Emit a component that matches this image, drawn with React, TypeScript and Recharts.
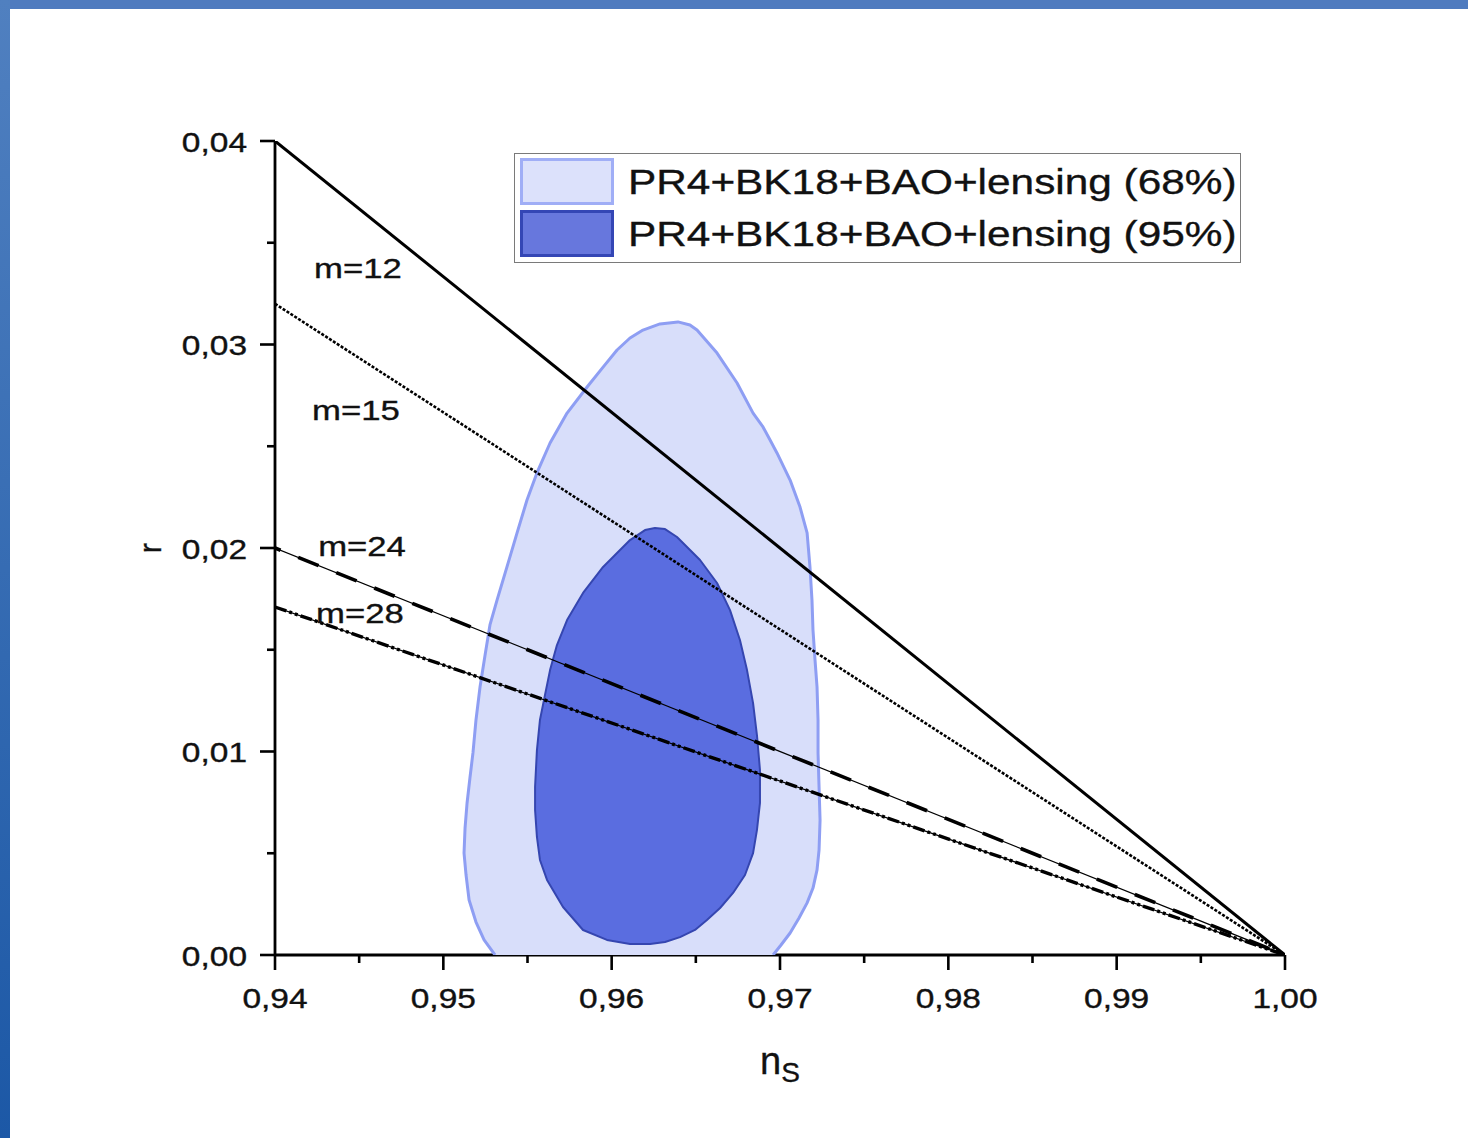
import React from "react"
import { ScatterChart, Scatter, XAxis, YAxis, Legend, ReferenceDot } from "recharts"

// n_s - r plane, contour points
const outerNs = [0.95307,0.95242,0.95194,0.95153,0.95135,0.95123,0.95129,0.95141,0.95158,0.95176,0.95194,0.95218,0.95248,0.95277,0.95319,0.95378,0.95438,0.95497,0.95556,0.95634,0.95735,0.95854,0.95949,0.96032,0.96109,0.96186,0.96287,0.96394,0.96465,0.96507,0.96626,0.96745,0.96840,0.96899,0.96941,0.96982,0.97060,0.97119,0.97161,0.97178,0.97190,0.97196,0.97208,0.97220,0.97226,0.97226,0.97232,0.97238,0.97232,0.97220,0.97196,0.97161,0.97113,0.97060,0.97006,0.96959]
const outerR = [0,0.00074,0.00162,0.00270,0.00393,0.00501,0.00624,0.00747,0.00870,0.00993,0.01155,0.01317,0.01474,0.01622,0.01744,0.01907,0.02074,0.02236,0.02369,0.02516,0.02663,0.02791,0.02889,0.02973,0.03032,0.03071,0.03101,0.03111,0.03096,0.03071,0.02958,0.02811,0.02663,0.02595,0.02531,0.02467,0.02334,0.02201,0.02074,0.01907,0.01744,0.01597,0.01450,0.01317,0.01155,0.00993,0.00826,0.00663,0.00516,0.00418,0.00329,0.00256,0.00182,0.00108,0.00049,0]

const innerNs = [0.96228,0.96109,0.95972,0.95830,0.95711,0.95616,0.95574,0.95556,0.95545,0.95545,0.95556,0.95574,0.95604,0.95634,0.95675,0.95735,0.95830,0.95949,0.96109,0.96198,0.96257,0.96317,0.96388,0.96525,0.96626,0.96703,0.96762,0.96804,0.96840,0.96863,0.96881,0.96881,0.96863,0.96840,0.96792,0.96721,0.96644,0.96566,0.96495,0.96406,0.96317]
const innerR = [0.00054,0.00054,0.00074,0.00123,0.00236,0.00369,0.00467,0.00580,0.00713,0.00826,0.01007,0.01155,0.01278,0.01400,0.01523,0.01646,0.01779,0.01907,0.02039,0.02088,0.02098,0.02093,0.02054,0.01941,0.01828,0.01695,0.01548,0.01400,0.01238,0.01081,0.00909,0.00747,0.00614,0.00501,0.00393,0.00305,0.00231,0.00172,0.00123,0.00088,0.00064]

// straight model lines r(n_s) for each m, from n_s = 0.94 to 1.00
const lineNs = [0.94, 1.0]
const m12 = [0.04, 0]
const m15 = [0.032, 0]
const m24 = [0.02, 0]
const m28 = [0.0171, 0]

const lineLabels = ["m=12", "m=15", "m=24", "m=28"]
const labelNs = [0.94493, 0.94481, 0.94517, 0.94505]
const labelR = [0.03376, 0.02678, 0.0201, 0.01681]

const xTicks = [0.94,0.945,0.95,0.955,0.96,0.965,0.97,0.975,0.98,0.985,0.99,0.995,1.0]
const yTicks = [0,0.005,0.01,0.015,0.02,0.025,0.03,0.035,0.04]

const legendNames = ["PR4+BK18+BAO+lensing (68%)", "PR4+BK18+BAO+lensing (95%)"]
const swatch = [
  { fill: "#dce1fb", stroke: "#a0aef6" },
  { fill: "#6777dd", stroke: "#3446b5" },
]

const FONT = "'Liberation Sans', Arial, sans-serif"
const SX = 1.24

const toPts = (xs: number[], ys: number[]) => xs.map((ns, i) => ({ ns, r: ys[i] }))

const outer = toPts(outerNs, outerR)
const inner = toPts(innerNs, innerR)

const isMajor = (v: number) => Math.round(v * 1000) % 10 === 0
const fmt = (v: number, d: number) => v.toFixed(d).replace(".", ",")

const noDot = () => <g />

function pathOf(points: { x: number; y: number }[]) {
  return points.map((p, i) => `${i ? "L" : "M"}${p.x},${p.y}`).join(" ")
}

// filled region; outline is left open for the outer one so it doesn't double the axis
function region(fill: string, stroke: string, sw: number, closeStroke: boolean) {
  return (p: any) => {
    const d = pathOf(p.points)
    return (
      <g>
        <path d={d + " Z"} fill={fill} stroke="none" />
        <path d={closeStroke ? d + " Z" : d} fill="none" stroke={stroke} strokeWidth={sw} strokeLinejoin="round" />
      </g>
    )
  }
}

function styledLine(main: any, thin?: boolean) {
  return (p: any) => {
    const d = pathOf(p.points)
    return (
      <g>
        {thin && <path d={d} fill="none" stroke="#000" strokeWidth={1.2} />}
        <path d={d} fill="none" stroke="#000" {...main} />
      </g>
    )
  }
}

const txt = { fontFamily: FONT, fill: "#111", stroke: "#111", strokeWidth: 0.35 }

function XTick(props: any) {
  const { x, y, payload } = props
  const major = isMajor(payload.value)
  return (
    <g transform={`translate(${x},${y})`}>
      <line x1={0} x2={0} y1={0} y2={major ? 15 : 8} stroke="#000" strokeWidth={2.6} />
      {major && (
        <text x={0} y={43} textAnchor="middle" dominantBaseline="central" fontSize={27}
          {...txt} transform={`scale(${SX},1)`}>
          {fmt(payload.value, 2)}
        </text>
      )}
    </g>
  )
}

function YTick(props: any) {
  const { x, y, payload } = props
  const major = isMajor(payload.value)
  return (
    <g transform={`translate(${x},${y})`}>
      <line x1={0} x2={major ? -15 : -8} y1={0} y2={0} stroke="#000" strokeWidth={2.6} />
      {major && (
        <text x={-28 / SX} y={1} textAnchor="end" dominantBaseline="central" fontSize={27}
          {...txt} transform={`scale(${SX},1)`}>
          {fmt(payload.value, 2)}
        </text>
      )}
    </g>
  )
}

function YLabel(props: any) {
  const vb = props.viewBox
  const cx = vb.x + vb.width - 125
  const cy = vb.y + vb.height / 2
  return (
    <text x={cx} y={cy} textAnchor="middle" dominantBaseline="central" fontSize={31}
      {...txt} transform={`rotate(-90,${cx},${cy})`}>
      r
    </text>
  )
}

function XLabel(props: any) {
  const vb = props.viewBox
  const cx = vb.x + vb.width / 2
  const cy = vb.y + 106
  return (
    <text x={cx - 20} y={cy} fontSize={38} {...txt} dominantBaseline="central">
      n<tspan fontSize={28} dy={11}>S</tspan>
    </text>
  )
}

function MLabel(text: string) {
  return (props: any) => {
    const vb = props.viewBox
    return (
      <text x={vb.x / SX} y={vb.y} textAnchor="middle" dominantBaseline="central" fontSize={28}
        {...txt} transform={`scale(${SX},1)`}>
        {text}
      </text>
    )
  }
}

function LegendBox({ payload }: any) {
  const items = (payload || []).filter((e: any) => legendNames.includes(e.value))
  return (
    <div style={{ border: "1px solid #7a7a7a", background: "#fff", width: 727, height: 110,
      boxSizing: "border-box", padding: "4px 5px" }}>
      {items.map((e: any, i: number) => (
        <div key={e.value} style={{ display: "flex", alignItems: "center", height: 47, marginBottom: 5 }}>
          <div style={{ width: 94, height: 47, boxSizing: "border-box", background: swatch[i].fill,
            border: `3px solid ${swatch[i].stroke}`, flexShrink: 0 }} />
          <div style={{ marginLeft: 14, fontFamily: FONT, fontSize: 35, color: "#111", whiteSpace: "nowrap",
            transform: "scaleX(1.21)", transformOrigin: "left center", lineHeight: "47px",
            WebkitTextStroke: "0.35px #111" }}>
            {e.value}
          </div>
        </div>
      ))}
    </div>
  )
}

export default function App() {
  return (
    <div style={{ position: "absolute", left: 0, top: 0, width: 1468, height: 1138, background: "#fff", overflow: "hidden" }}>
      <div style={{ position: "absolute", left: 0, top: 0, width: 1468, height: 9, background: "#4f7bbf" }} />
      <div style={{ position: "absolute", left: 0, top: 0, width: 10, height: 1138,
        background: "linear-gradient(#5080c0, #1c58a6)" }} />
      <div style={{ position: "absolute", left: 0, top: 0 }}>
        <ScatterChart width={1468} height={1138} margin={{ top: 141, right: 183, bottom: 123, left: 175 }}>
          <XAxis type="number" dataKey="ns" domain={[0.94, 1.0]} ticks={xTicks} interval={0}
            allowDataOverflow tick={<XTick />} tickLine={false} tickSize={0} tickMargin={0} height={60}
            axisLine={{ stroke: "#000", strokeWidth: 2.8 }} label={<XLabel />} />
          <YAxis type="number" dataKey="r" domain={[0, 0.04]} ticks={yTicks} interval={0}
            allowDataOverflow tick={<YTick />} tickLine={false} tickSize={0} tickMargin={0} width={100}
            axisLine={{ stroke: "#000", strokeWidth: 2.8 }} label={<YLabel />} />
          <Scatter name={legendNames[0]} data={outer} fill={swatch[0].fill} shape={noDot}
            line={region("#d8defa", "#8e9ef3", 3, false)} isAnimationActive={false} />
          <Scatter name={legendNames[1]} data={inner} fill={swatch[1].fill} shape={noDot}
            line={region("#5a6de0", "#3546b0", 2, true)} isAnimationActive={false} />
          <Scatter name="m=12" legendType="none" data={toPts(lineNs, m12)} shape={noDot}
            line={styledLine({ strokeWidth: 3 })} isAnimationActive={false} />
          <Scatter name="m=15" legendType="none" data={toPts(lineNs, m15)} shape={noDot}
            line={styledLine({ strokeWidth: 2.6, strokeDasharray: "3 1.6" })} isAnimationActive={false} />
          <Scatter name="m=24" legendType="none" data={toPts(lineNs, m24)} shape={noDot}
            line={styledLine({ strokeWidth: 3.6, strokeDasharray: "22 19", strokeDashoffset: 16 }, true)} isAnimationActive={false} />
          <Scatter name="m=28" legendType="none" data={toPts(lineNs, m28)} shape={noDot}
            line={styledLine({ strokeWidth: 3.4, strokeDasharray: "12 3 3 3 3 3" }, true)} isAnimationActive={false} />
          {lineLabels.map((t, i) => (
            <ReferenceDot key={t} x={labelNs[i]} y={labelR[i]} r={0} fill="none" stroke="none" label={MLabel(t)} />
          ))}
          <Legend layout="horizontal" verticalAlign="middle" align="center" content={<LegendBox />}
            wrapperStyle={{ left: 514, top: 153, width: 727, height: 110 }} />
        </ScatterChart>
      </div>
    </div>
  )
}
